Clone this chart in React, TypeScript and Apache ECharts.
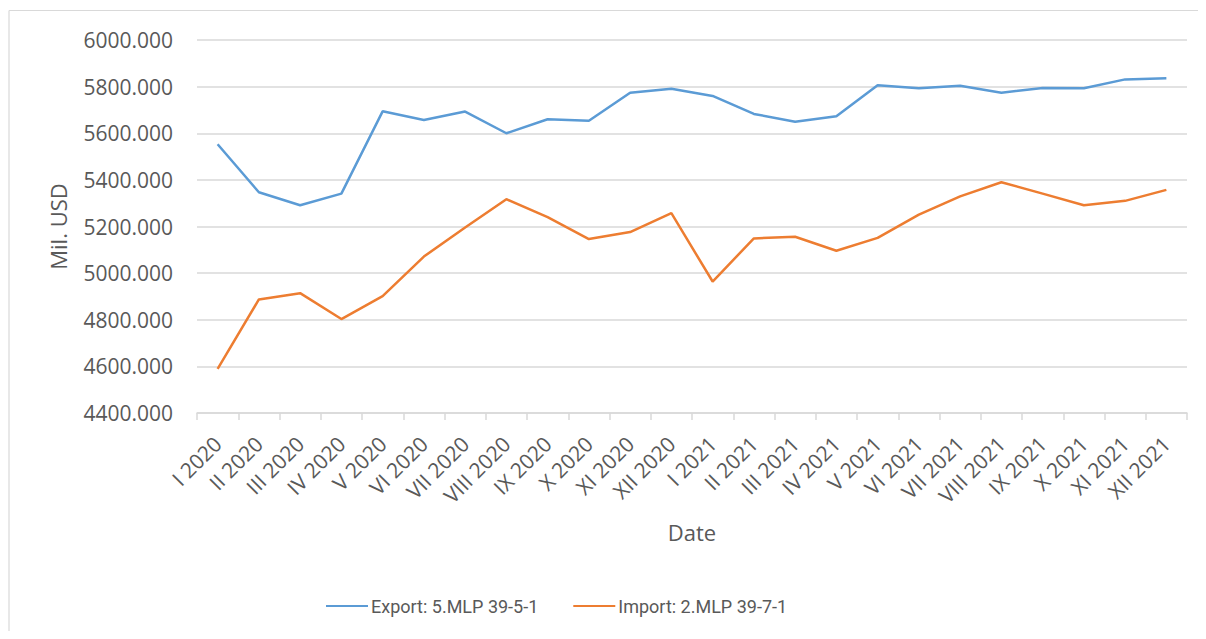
import React, { useEffect, useRef } from "react";
import * as echarts from "echarts";

const categories = [
  "I 2020", "II 2020", "III 2020", "IV 2020", "V 2020", "VI 2020",
  "VII 2020", "VIII 2020", "IX 2020", "X 2020", "XI 2020", "XII 2020",
  "I 2021", "II 2021", "III 2021", "IV 2021", "V 2021", "VI 2021",
  "VII 2021", "VIII 2021", "IX 2021", "X 2021", "XI 2021", "XII 2021",
];

const exportValues = [
  5553, 5347, 5291, 5341, 5694, 5657, 5693, 5600, 5660, 5654, 5774, 5791,
  5760, 5683, 5649, 5673, 5806, 5793, 5804, 5774, 5794, 5793, 5831, 5836,
];

const importValues = [
  4589, 4887, 4914, 4803, 4901, 5071, 5196, 5317, 5240, 5146, 5176, 5257,
  4964, 5149, 5156, 5096, 5151, 5251, 5329, 5390, 5341, 5291, 5310, 5357,
];

const seriesNames = ["Export: 5.MLP 39-5-1", "Import: 2.MLP 39-7-1"];
const yAxisName = "Mil. USD";
const xAxisName = "Date";

const FONT = "'Open Sans', sans-serif";
const TEXT = "#595959";
const GRID = "#d9d9d9";

export default function App() {
  const ref = useRef<HTMLDivElement>(null);
  useEffect(() => {
    if (!ref.current) return;
    const chart = echarts.init(ref.current, null, { renderer: "svg" });
    chart.setOption({
      animation: false,
      textStyle: { fontFamily: FONT },
      graphic: [
        {
          type: "line",
          shape: { x1: 1, y1: 2.5, x2: 1198, y2: 2.5 },
          style: { stroke: GRID, lineWidth: 1.2 },
          silent: true,
          z: -10,
        },
        {
          type: "line",
          shape: { x1: 1, y1: 2.5, x2: 1, y2: 623 },
          style: { stroke: GRID, lineWidth: 1.2 },
          silent: true,
          z: -10,
        },
      ],
      grid: { left: 189, right: 19, top: 32, bottom: 218 },
      legend: {
        left: 313,
        top: 584,
        itemWidth: 42,
        itemHeight: 14,
        itemGap: 35,
        icon: "path://M0,6L42,6L42,8L0,8Z",
        textStyle: { fontFamily: "Roboto, sans-serif", fontSize: 18, color: TEXT, padding: [0, 0, 0, -2] },
        data: [
          { name: seriesNames[0], itemStyle: { color: "#5B9BD5" } },
          { name: seriesNames[1], itemStyle: { color: "#ED7D31" } },
        ],
      },
      xAxis: {
        type: "category",
        data: categories,
        boundaryGap: true,
        name: xAxisName,
        nameLocation: "middle",
        nameGap: 108,
        nameTextStyle: { fontFamily: FONT, fontSize: 22, color: TEXT },
        axisLine: { lineStyle: { color: GRID, width: 1.5 } },
        axisTick: { show: true, length: 7, lineStyle: { color: GRID, width: 1.5 } },
        axisLabel: {
          interval: 0,
          rotate: 45,
          margin: 27,
          fontFamily: FONT,
          fontSize: 21,
          color: TEXT,
        },
        splitLine: { show: false },
      },
      yAxis: {
        type: "value",
        min: 4400,
        max: 6000,
        interval: 200,
        name: yAxisName,
        nameLocation: "middle",
        nameRotate: 90,
        nameGap: 128,
        nameTextStyle: { fontFamily: FONT, fontSize: 22, color: TEXT },
        axisLine: { show: false },
        axisTick: { show: false },
        axisLabel: {
          margin: 24,
          fontFamily: FONT,
          fontSize: 21,
          color: TEXT,
          formatter: (v: number) => v.toFixed(3),
        },
        splitLine: { lineStyle: { color: GRID, width: 1.5 } },
      },
      series: [
        {
          name: seriesNames[0],
          type: "line",
          data: exportValues,
          symbol: "none",
          lineStyle: { color: "#5B9BD5", width: 2.5 },
          itemStyle: { color: "#5B9BD5" },
        },
        {
          name: seriesNames[1],
          type: "line",
          data: importValues,
          symbol: "none",
          lineStyle: { color: "#ED7D31", width: 2.5 },
          itemStyle: { color: "#ED7D31" },
        },
      ],
    });
    return () => chart.dispose();
  }, []);
  return <div ref={ref} style={{ width: 1198, height: 623, overflow: "hidden" }} />;
}
